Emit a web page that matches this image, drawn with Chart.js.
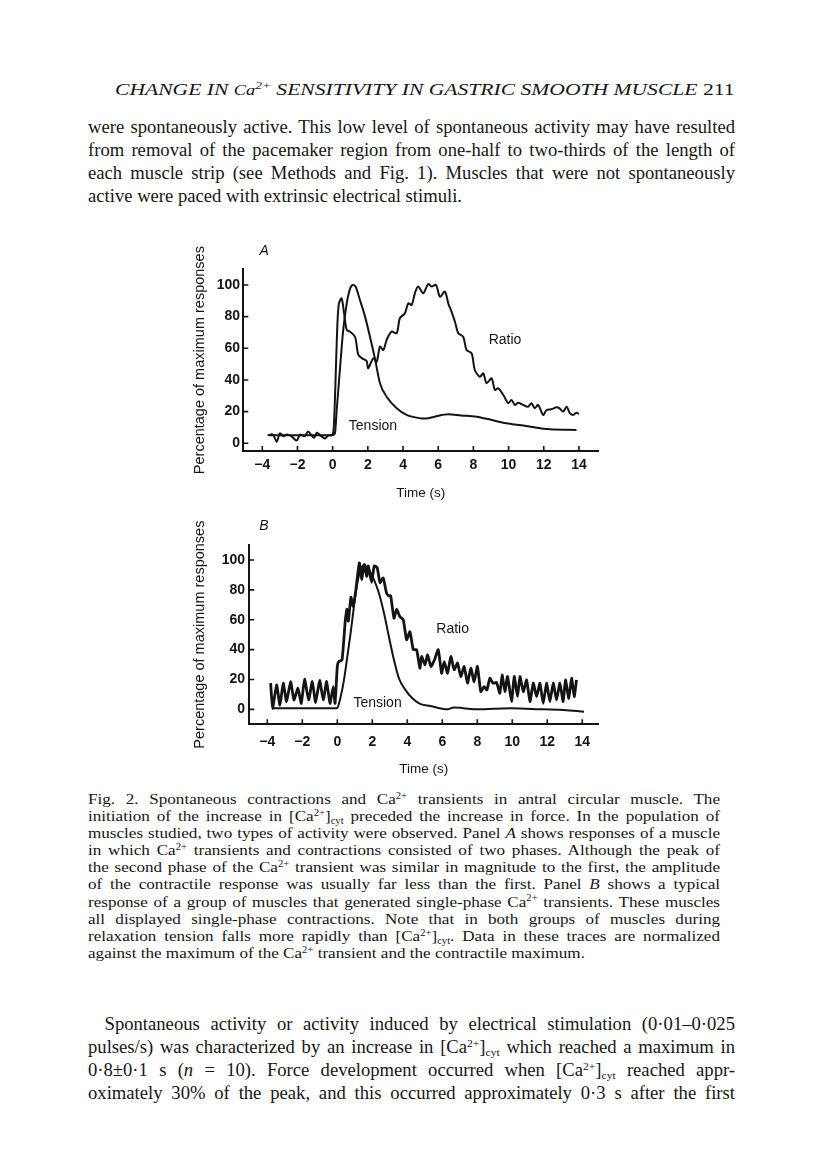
<!DOCTYPE html>
<html><head><meta charset="utf-8">
<script src="https://cdn.jsdelivr.net/npm/chart.js@4"></script>
<style>
html,body{margin:0;padding:0;background:#fff;}
body{width:816px;height:1160px;position:relative;overflow:hidden;font-family:"Liberation Serif","Times New Roman",serif;color:#161616;}
.blk{position:absolute;transform-origin:0 0;}
.ln{white-space:nowrap;text-align:justify;text-align-last:justify;}
.ln.last{text-align-last:left;text-align:left;}
.measure .ln{text-align:left !important;text-align-last:left !important;}
sup,sub{font-size:0.62em;line-height:0;position:relative;vertical-align:baseline;}
sup{top:-0.55em;} sub{top:0.3em;}
canvas{position:absolute;}
</style></head>
<body>
<div id="hdr" class="blk" style="left:115px;top:80px;font-size:17px;line-height:20px;white-space:nowrap;"><span id="hdrText"><i>CHANGE IN <span style="font-size:0.85em">Ca</span><sup>2+</sup> SENSITIVITY IN GASTRIC SMOOTH MUSCLE</i> 211</span></div>

<div id="body1" class="blk" style="left:88px;width:647px;top:116px;font-size:18px;line-height:23px;">
<div class="ln">were spontaneously active. This low level of spontaneous activity may have resulted</div>
<div class="ln">from removal of the pacemaker region from one-half to two-thirds of the length of</div>
<div class="ln">each muscle strip (see Methods and Fig. 1). Muscles that were not spontaneously</div>
<div class="ln last">active were paced with extrinsic electrical stimuli.</div>
</div>

<canvas id="chartA" width="420" height="275" style="left:190px;top:235px;"></canvas>
<canvas id="chartB" width="420" height="275" style="left:190px;top:510px;"></canvas>

<div id="cap" class="blk" style="left:88px;width:632px;top:791px;font-size:15px;line-height:17.1px;">
<div class="ln">Fig. 2. Spontaneous contractions and Ca<sup>2+</sup> transients in antral circular muscle. The</div>
<div class="ln">initiation of the increase in [Ca<sup>2+</sup>]<sub>cyt</sub> preceded the increase in force. In the population of</div>
<div class="ln">muscles studied, two types of activity were observed. Panel <i>A</i> shows responses of a muscle</div>
<div class="ln">in which Ca<sup>2+</sup> transients and contractions consisted of two phases. Although the peak of</div>
<div class="ln">the second phase of the Ca<sup>2+</sup> transient was similar in magnitude to the first, the amplitude</div>
<div class="ln">of the contractile response was usually far less than the first. Panel <i>B</i> shows a typical</div>
<div class="ln">response of a group of muscles that generated single-phase Ca<sup>2+</sup> transients. These muscles</div>
<div class="ln">all displayed single-phase contractions. Note that in both groups of muscles during</div>
<div class="ln">relaxation tension falls more rapidly than [Ca<sup>2+</sup>]<sub>cyt</sub>. Data in these traces are normalized</div>
<div class="ln last">against the maximum of the Ca<sup>2+</sup> transient and the contractile maximum.</div>
</div>

<div id="body2" class="blk" style="left:88px;width:647px;top:1013px;font-size:18px;line-height:23px;">
<div class="ln" style="text-indent:16px;">Spontaneous activity or activity induced by electrical stimulation (0·01–0·025</div>
<div class="ln">pulses/s) was characterized by an increase in [Ca<sup>2+</sup>]<sub>cyt</sub> which reached a maximum in</div>
<div class="ln">0·8±0·1 s (<i>n</i> = 10). Force development occurred when [Ca<sup>2+</sup>]<sub>cyt</sub> reached appr-</div>
<div class="ln">oximately 30% of the peak, and this occurred approximately 0·3 s after the first</div>
</div>

<script>
// ---- shared axis ticks ----
const yTicks = [0, 20, 40, 60, 80, 100];
const xTicks = [-4, -2, 0, 2, 4, 6, 8, 10, 12, 14];

// ---- Panel A ----
const ratioA_t = [-3.7,-3.4,-3.18,-3.0,-2.8,-2.6,-2.35,-2.05,-1.85,-1.6,-1.39,-1.2,-1.05,-0.9,-0.7,-0.44,-0.25,-0.05,0.05,0.15,0.25,0.35,0.51,0.65,0.8,0.98,1.27,1.46,1.7,1.93,2.02,2.31,2.5,2.69,2.88,3.07,3.35,3.64,3.82,4.1,4.3,4.49,4.68,4.86,5.15,5.43,5.62,5.87,6.1,6.38,6.57,6.76,6.95,7.14,7.42,7.61,7.9,8.08,8.37,8.56,8.75,9.03,9.22,9.41,9.7,9.98,10.17,10.36,10.55,10.83,11.11,11.3,11.49,11.68,11.97,12.16,12.44,12.73,12.9,13.1,13.3,13.48,13.67,13.86,14.0];
const ratioA_v = [5,5.5,1,6.3,4.5,5.5,4.5,1.7,5.5,4.5,7.4,5,3.5,6.7,5,3,5,5,8,35,70,88,91.5,82,71.6,70.5,67.3,55.8,53.5,52,47.4,53.7,51.5,61,58.9,65.3,70.5,69.5,79,82,88.4,87.4,95,99,94.8,100.6,99,100,92.6,95.8,88.4,83,76.8,69.5,67.3,58.9,56.8,46.3,42,44.2,37.9,41,33.7,34.7,30.5,25.3,27.4,24.2,25.6,24.2,23.1,25.3,22.1,24.2,17.9,21,21.5,22.7,22,20,23.1,19,17.9,19.3,18.5];
const tensionA_t = [-3.65,-2,-1,-0.3,0,0.13,0.23,0.41,0.6,0.8,1.0,1.15,1.3,1.55,1.84,2.12,2.4,2.69,3.07,3.64,4.2,4.96,5.3,5.8,6.57,7.3,8.18,9.0,9.7,11.0,12.35,13.86];
const tensionA_v = [5,5,5,5,5.2,6.3,21,46.3,71.6,88.4,98,100,99,90.5,80,67.3,53.7,37.9,29.4,22.1,17.9,15.8,15.6,16.8,18.3,17.6,16.8,14.8,13,10.9,8.8,8.4];

// ---- Panel B ----
const ratioB_t = [-3.81,-3.7,-3.47,-3.28,-3.09,-2.9,-2.67,-2.48,-2.25,-2.06,-1.87,-1.64,-1.43,-1.24,-1.01,-0.8,-0.61,-0.42,-0.23,-0.13,0,0.08,0.27,0.46,0.55,0.63,0.78,0.91,1.06,1.26,1.39,1.54,1.68,1.77,1.96,2.11,2.28,2.44,2.62,2.81,2.94,3.05,3.24,3.39,3.58,3.77,3.96,4.15,4.34,4.53,4.72,4.82,5.01,5.16,5.35,5.55,5.77,5.96,6.11,6.3,6.49,6.68,6.87,7.06,7.25,7.44,7.63,7.82,8.01,8.2,8.39,8.55,8.72,8.9,9.1,9.29,9.42,9.58,9.73,9.96,10.11,10.3,10.44,10.63,10.82,11.01,11.2,11.39,11.58,11.77,11.96,12.15,12.34,12.53,12.72,12.91,13.04,13.23,13.39,13.54,13.67];
const ratioB_v = [17.5,0.7,16.4,2.9,17.5,5.2,18.6,6.3,14.1,4,20.2,6.3,18.6,4.5,19.3,6.3,18.6,4,15.2,4,28.7,32,33,60,67,59,75,69,80,98,87,97,89,96,85,96,94.8,84.8,88,78,76,76,61,67,62,60,46.6,52,40,40,27.6,35.4,29.8,36.5,28.7,33,40,24.2,32,24.2,35.4,26.5,31,22,28.7,17.5,27.6,18.6,28.7,11.9,15.2,13,20.9,17.5,18,10.8,23,11.9,22,5.2,22,8.5,22,11.9,19.7,5.2,17.5,8.5,17.5,4,17.5,5.2,17.5,6.3,17.5,5.2,19.7,7.4,20.9,8.5,19.7];
const tensionB_t = [-3.71,-1,-0.1,0,0.19,0.38,0.57,0.76,0.95,1.14,1.33,1.52,1.81,2.1,2.38,2.67,2.95,3.24,3.52,3.9,4.29,4.67,5.33,6.29,6.66,7.2,8.0,9.9,11.8,12.95,14.1];
const tensionB_v = [0.7,0.7,0.7,1,8.4,19.6,35,51,68.7,84.4,93.3,96.6,93.3,86.6,77.7,64.3,48.6,33,20.8,12.9,7.4,4,2.2,0,1.3,0.8,0,0.7,0,-0.4,-1.6];

// ---- text fitting: widen glyphs horizontally so the lines fill the page measure ----
function lineWidths(blk) {
  blk.classList.add('measure');
  const w = Array.from(blk.querySelectorAll('.ln')).map(el => {
    const r = document.createRange(); r.selectNodeContents(el);
    return r.getBoundingClientRect().width + (parseFloat(el.style.textIndent) || 0);
  });
  blk.classList.remove('measure');
  return w;
}
function fitBlock(id, lastTarget, fullWidth, fixedScale) {
  const blk = document.getElementById(id);
  const w = lineWidths(blk);
  let s;
  if (fixedScale) s = fixedScale;
  else {
    s = lastTarget / w[w.length - 1];
    const maxNat = Math.max.apply(null, w);
    s = Math.min(s, fullWidth / (maxNat + 8));
  }
  blk.style.width = (fullWidth / s) + 'px';
  blk.style.transform = 'scaleX(' + s + ')';
  return s;
}
const sBody = fitBlock('body1', 374, 647);
fitBlock('body2', 0, 647, sBody);
fitBlock('cap', 540, 632);
(function () {
  const h = document.getElementById('hdr');
  const nat = document.getElementById('hdrText').offsetWidth;
  h.style.transform = 'scaleX(' + (620 / nat) + ')';
})();

const INK = '#141414';
const SANS = '"Liberation Sans", Arial, Helvetica, sans-serif';
Chart.defaults.font.family = SANS;
Chart.defaults.color = INK;

function pts(t, v) { return t.map((x, i) => ({ x: x, y: v[i] })); }
function fmt(v) { return v < 0 ? '\u2212' + Math.abs(v) : String(v); }

const inwardTicks = {
  id: 'inwardTicks',
  afterDraw(chart, args, opts) {
    const { ctx, chartArea: a, scales: { x, y } } = chart;
    ctx.save();
    ctx.strokeStyle = INK; ctx.lineWidth = 1.6;
    ctx.beginPath();
    x.ticks.forEach(t => { const px = x.getPixelForValue(t.value); ctx.moveTo(px, a.bottom); ctx.lineTo(px, a.bottom - 5); });
    y.ticks.forEach(t => { const py = y.getPixelForValue(t.value); ctx.moveTo(a.left, py); ctx.lineTo(a.left + 5, py); });
    ctx.stroke();
    ctx.fillStyle = INK; ctx.textAlign = 'center'; ctx.textBaseline = 'middle';
    (opts.labels || []).forEach(l => {
      ctx.font = l.font;
      ctx.fillText(l.text, x.getPixelForValue(l.x), y.getPixelForValue(l.y));
    });
    ctx.restore();
  }
};

function makeChart(id, c) {
  new Chart(document.getElementById(id), {
    type: 'line',
    data: { datasets: [
      { data: pts(c.rt, c.rv), borderColor: INK, borderWidth: c.rw, tension: c.rtens, pointRadius: 0, fill: false },
      { data: pts(c.tt, c.tv), borderColor: INK, borderWidth: 2, cubicInterpolationMode: 'monotone', pointRadius: 0, fill: false }
    ] },
    options: {
      responsive: false, animation: false, devicePixelRatio: 1,
      layout: { padding: { left: 0, top: c.padTop, right: c.padRight, bottom: 0 } },
      plugins: { legend: { display: false }, tooltip: { enabled: false }, inwardTicks: { labels: c.labels } },
      scales: {
        x: {
          type: 'linear', min: c.xmin, max: c.xmax,
          grid: { display: false, drawTicks: false },
          border: { display: true, color: INK, width: 2 },
          ticks: { padding: c.xPad, font: { size: 14, weight: 'bold' }, color: INK, autoSkip: false, maxRotation: 0, callback: fmt },
          afterBuildTicks: s => { s.ticks = xTicks.map(v => ({ value: v })); },
          afterFit: s => { s.height = c.xH; },
          title: { display: true, text: 'Time (s)', font: { size: 13.5 }, color: INK, padding: { top: 0, bottom: c.xTitlePad } }
        },
        y: {
          type: 'linear', min: c.ymin, max: c.ymax,
          grid: { display: false, drawTicks: false },
          border: { display: true, color: INK, width: 2 },
          ticks: { padding: c.yPad, font: { size: 14, weight: 'bold' }, color: INK, autoSkip: false, callback: fmt },
          afterBuildTicks: s => { s.ticks = yTicks.map(v => ({ value: v })); },
          afterFit: s => { s.width = c.yW; },
          title: { display: true, text: 'Percentage of maximum responses', font: { size: 14.5 }, color: INK, padding: { top: 1.3, bottom: 0 } }
        }
      }
    },
    plugins: [inwardTicks]
  });
}

makeChart('chartA', {
  rt: ratioA_t, rv: ratioA_v, rw: 2, rtens: 0.3,
  tt: tensionA_t, tv: tensionA_v,
  xmin: -5.08, xmax: 15.1, ymin: -4.9, ymax: 109.9,
  padTop: 34.3, padRight: 11.7, xH: 59, yW: 53.3,
  xPad: 5.9, yPad: 3.3, xTitlePad: 9,
  labels: [
    { text: 'A', x: -3.9, y: 121.5, font: 'italic 14px ' + SANS },
    { text: 'Ratio', x: 9.8, y: 65.3, font: '14px ' + SANS },
    { text: 'Tension', x: 2.29, y: 10.5, font: '14px ' + SANS }
  ]
});

makeChart('chartB', {
  rt: ratioB_t, rv: ratioB_v, rw: 2.8, rtens: 0.15,
  tt: tensionB_t, tv: tensionB_v,
  xmin: -5.03, xmax: 14.9, ymin: -10, ymax: 110,
  padTop: 35, padRight: 12, xH: 60.7, yW: 59.3,
  xPad: 9, yPad: 4.3, xTitlePad: 8,
  labels: [
    { text: 'B', x: -4.2, y: 122.8, font: 'italic 14px ' + SANS },
    { text: 'Ratio', x: 6.59, y: 53.8, font: '14px ' + SANS },
    { text: 'Tension', x: 2.3, y: 4.2, font: '14px ' + SANS }
  ]
});
</script>
</body></html>
